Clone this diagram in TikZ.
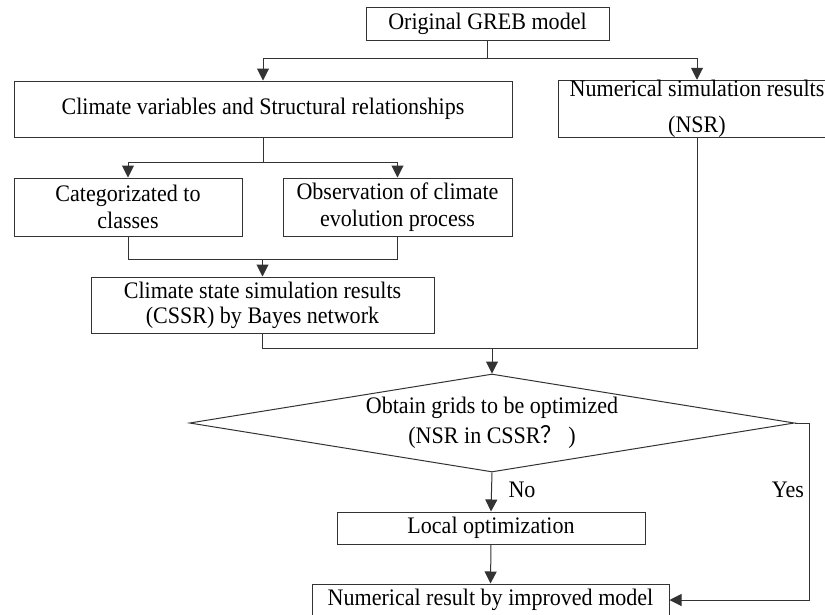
\documentclass[tikz,border=0pt]{standalone}
\usepackage{fontspec}
\setmainfont[FakeStretch=0.93]{Liberation Serif}
\newfontfamily\cjk[FakeStretch=0.93]{Noto Sans CJK SC}
\usetikzlibrary{arrows.meta,shapes.geometric}
\begin{document}
\begin{tikzpicture}[x=1pt,y=-1pt,
  box/.style={draw=black!80,line width=1pt,inner sep=0pt,align=center,font=\fontsize{23.7}{27}\selectfont},
  arr/.style={draw=black!80,line width=1pt,-{Triangle[length=12pt,width=12pt]}},
  ln/.style={draw=black!80,line width=1pt},
  lab/.style={font=\fontsize{23.7}{27}\selectfont,inner sep=0pt}]
\useasboundingbox (0,0) rectangle (825,614);
\clip (0,0) rectangle (825,614);
\fill[white] (0,0) rectangle (825,614);
% nodes
\node[box,minimum width=243pt,minimum height=33pt] (orig) at (487.5,23.5) {Original GREB model};
\node[box,minimum width=498pt,minimum height=56pt] (clim) at (263,109) {Climate variables and Structural relationships};
\node[box,minimum width=278pt,minimum height=56pt,font=\fontsize{23.7}{36}\selectfont] (nsr) at (697,109) {Numerical simulation results\\(NSR)};
\node[box,minimum width=228pt,minimum height=58pt] (cat) at (128,207) {Categorizated to\\classes};
\node[box,minimum width=229pt,minimum height=58pt] (obs) at (397.5,207) {Observation of climate\\evolution process};
\node[box,minimum width=343pt,minimum height=56pt,font=\fontsize{23.7}{25}\selectfont] (cssr) at (262.5,305) {Climate state simulation results\\(CSSR) by Bayes network};
\node[draw=black!80,line width=1pt,shape=diamond,minimum width=605pt,minimum height=98pt,inner sep=0pt] (dec) at (492,423) {};
\node[lab,align=center,font=\fontsize{23.7}{30}\selectfont] (dtext) at (492,423) {Obtain grids to be optimized\\(NSR in CSSR{\cjk ？} )};
\node[box,minimum width=308pt,minimum height=32pt] (loc) at (491,528) {Local optimization};
\node[box,minimum width=357pt,minimum height=32pt] (fin) at (490.5,600) {Numerical result by improved model};
\node[lab] (no) at (522,490) {No};
\node[lab] (yes) at (788,490) {Yes};
% connectors
\coordinate (j1) at (487.5,58);
\draw[ln] (orig.south) -- (j1);
\draw[arr] (j1) -| (clim.north);
\draw[arr] (j1) -| (nsr.north);
\coordinate (j2) at (263,162);
\draw[ln] (clim.south) -- (j2);
\draw[arr] (j2) -| (cat.north);
\draw[arr] (j2) -| (obs.north);
\coordinate (j3) at (262.5,259);
\draw[ln] (cat.south) |- (j3);
\draw[ln] (obs.south) |- (j3);
\draw[arr] (j3) -- (cssr.north);
\coordinate (j4) at (492,348);
\draw[ln] (cssr.south) |- (j4);
\draw[ln] (nsr.south) |- (j4);
\draw[arr] (j4) -- (dec.north);
\draw[arr] (dec.south) -- (loc.north);
\draw[arr] (loc.south) -- (fin.north);
\coordinate (j5) at (809,423);
\draw[arr] (dec.east) -- (j5) |- (fin.east);
\end{tikzpicture}
\end{document}
